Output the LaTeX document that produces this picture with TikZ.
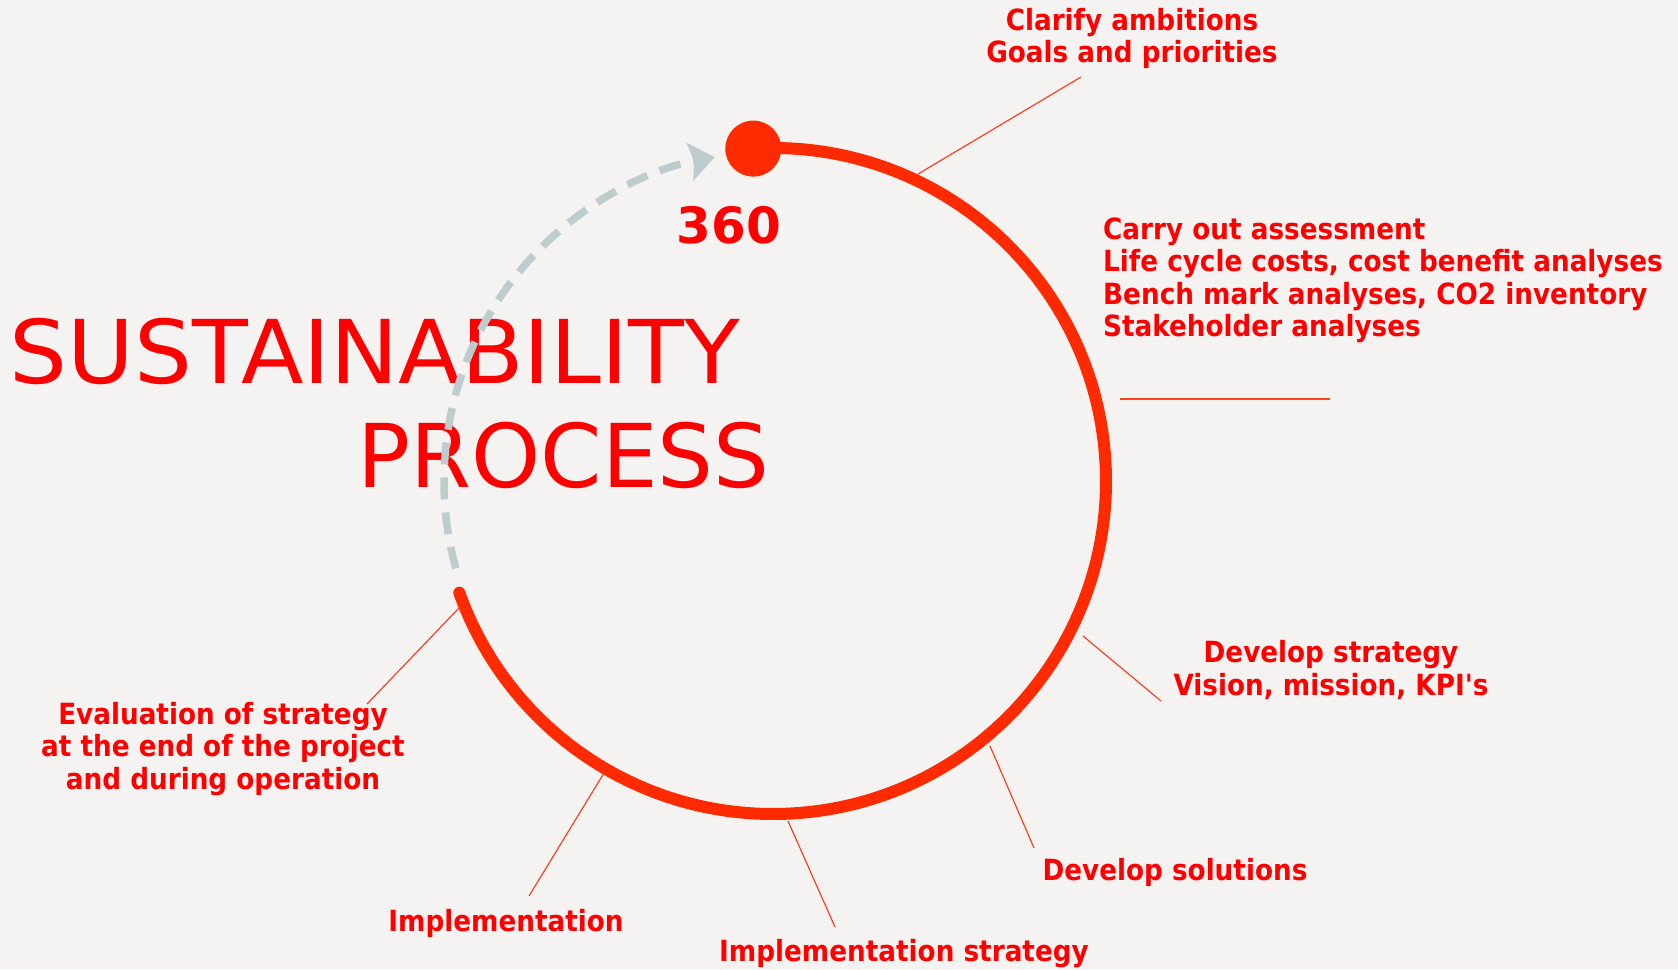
\documentclass[tikz,border=0pt]{standalone}
\usepackage{fontspec}
\setmainfont{DejaVu Sans}
\newfontfamily\lblfont{DejaVu Sans Condensed}[Ligatures=TeXOff]
\usetikzlibrary{arrows.meta}
\definecolor{bg}{HTML}{F4F3F2}
\definecolor{ringred}{HTML}{FF2A00}
\definecolor{txtred}{HTML}{FF0000}
\definecolor{leadred}{HTML}{FF4020}
\definecolor{dashgray}{HTML}{BDCDCD}
\begin{document}
\begin{tikzpicture}[x=1pt,y=1pt,
  lbl/.style={font=\lblfont\bfseries\fontsize{29.2}{32.5}\selectfont, text=txtred, inner sep=0pt, align=center},
  title/.style={font=\fontsize{88}{88}\selectfont, text=txtred, inner sep=0pt, anchor=base west},
  leader/.style={draw=leadred, line width=1.2pt},
  ring/.style={draw=ringred, line width=12pt, line cap=round},
  loop/.style={draw=dashgray, line width=7.5pt, dash pattern=on 22pt off 13pt,
    -{Stealth[length=25pt,width=38pt,inset=4pt]}}]
\fill[bg] (0,0) rectangle (1678,-969);
\useasboundingbox (0,0) rectangle (1678,-969);
\coordinate (ctr) at (773,-481);
% ring
\draw[ring] (ctr) ++(93.4:333) arc[start angle=93.4, end angle=-160.4, radius=333];
\fill[ringred] (753.3,-148.6) circle (28);
% title
\node[title, xscale=1.037, transform shape] (t1) at (9.5,-383) {SUSTAINABILITY};
\node[title] (t2) at (357,-487) {PROCESS};
% dashed return arrow
\draw[loop] (ctr) ++(195.4:329) arc[start angle=195.4, end angle=100.2, radius=329];
% 360
\node[font=\bfseries\fontsize{50}{50}\selectfont, text=txtred, inner sep=0pt, anchor=base] (deg) at (729,-243) {360};
% labels (base anchor = baseline of the last line)
\node[lbl, anchor=base] (clarify) at (1132,-62.5) {Clarify ambitions\\Goals and priorities};
\node[lbl, align=left, anchor=base west] (assess) at (1103,-336.5) {Carry out assessment\\Life cycle costs, cost benefit analyses\\Bench mark analyses, CO2 inventory\\Stakeholder analyses};
\node[lbl, anchor=base] (devstrat) at (1331,-695) {Develop strategy\\Vision, mission, KPI's};
\node[lbl, anchor=base] (devsol) at (1175,-880) {Develop solutions};
\node[lbl, anchor=base] (implstrat) at (904,-961) {Implementation strategy};
\node[lbl, anchor=base] (impl) at (506,-931) {Implementation};
\node[lbl, anchor=base] (eval) at (223,-789) {Evaluation of strategy\\at the end of the project\\and during operation};
% leader lines
\coordinate (c1a) at (1081,-77);  \coordinate (c1b) at (918,-174);
\coordinate (c2a) at (1120,-399); \coordinate (c2b) at (1330,-399);
\coordinate (c3a) at (1083,-636); \coordinate (c3b) at (1161,-701);
\coordinate (c4a) at (990,-746);  \coordinate (c4b) at (1034,-848);
\coordinate (c5a) at (788,-821);  \coordinate (c5b) at (835,-927);
\coordinate (c6a) at (604,-773);  \coordinate (c6b) at (529,-896);
\coordinate (c7a) at (460,-607);  \coordinate (c7b) at (367,-704);
\draw[leader] (c1a) -- (c1b);
\draw[leader] (c2a) -- (c2b);
\draw[leader] (c3a) -- (c3b);
\draw[leader] (c4a) -- (c4b);
\draw[leader] (c5a) -- (c5b);
\draw[leader] (c6a) -- (c6b);
\draw[leader] (c7a) -- (c7b);
\end{tikzpicture}
\end{document}
